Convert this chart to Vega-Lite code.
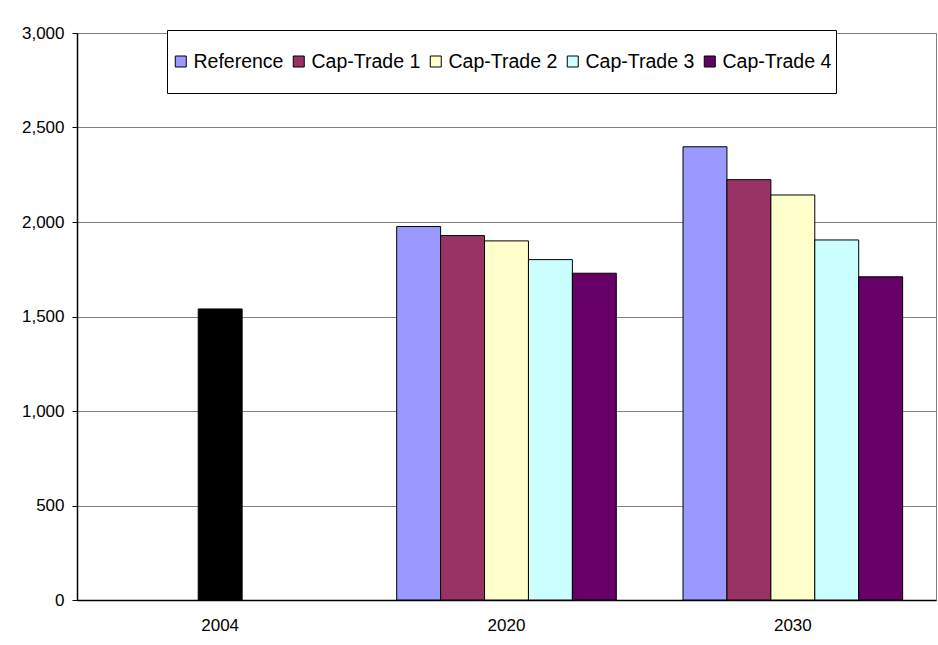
{
  "$schema": "https://vega.github.io/schema/vega-lite/v6.json",
  "autosize": {"type": "none"},
  "width": 859,
  "height": 567,
  "padding": {"left": 77, "top": 33, "right": 2, "bottom": 45},
  "background": "white",
  "config": {
    "font": "Liberation Sans",
    "view": {"stroke": "#808080", "strokeWidth": 1},
    "axis": {"labelFont": "Liberation Sans", "labelColor": "black", "labelFontSize": 17}
  },
  "datasets": {
    "base": [{"year": "2004", "value": 1540}],
    "scen": [
      {"year": "2020", "series": "Reference", "value": 1976},
      {"year": "2020", "series": "Cap-Trade 1", "value": 1928},
      {"year": "2020", "series": "Cap-Trade 2", "value": 1900},
      {"year": "2020", "series": "Cap-Trade 3", "value": 1801},
      {"year": "2020", "series": "Cap-Trade 4", "value": 1729},
      {"year": "2030", "series": "Reference", "value": 2398},
      {"year": "2030", "series": "Cap-Trade 1", "value": 2224},
      {"year": "2030", "series": "Cap-Trade 2", "value": 2143},
      {"year": "2030", "series": "Cap-Trade 3", "value": 1905},
      {"year": "2030", "series": "Cap-Trade 4", "value": 1710}
    ]
  },
  "encoding": {
    "x": {
      "field": "year", "type": "nominal", "sort": ["2004", "2020", "2030"],
      "scale": {"domain": ["2004", "2020", "2030"], "paddingInner": 0.233, "paddingOuter": 0.1165},
      "axis": {"title": null, "labelAngle": 0, "ticks": false, "domainColor": "black", "domainWidth": 1.5, "labelPadding": 17, "grid": false}
    },
    "y": {
      "field": "value", "type": "quantitative",
      "scale": {"domain": [0, 3000], "nice": false},
      "axis": {"title": null, "values": [0, 500, 1000, 1500, 2000, 2500, 3000], "format": ",.0f", "tickColor": "black", "tickSize": 5, "domainColor": "black", "domainWidth": 1.5, "labelPadding": 8, "gridColor": "#808080", "gridWidth": 1}
    }
  },
  "layer": [
    {
      "data": {"name": "base"},
      "mark": {"type": "bar", "color": "black", "stroke": "black", "strokeWidth": 1, "width": {"band": 0.2}},
      "encoding": {}
    },
    {
      "data": {"name": "scen"},
      "mark": {"type": "bar", "stroke": "black", "strokeWidth": 1},
      "encoding": {
        "xOffset": {"field": "series", "type": "nominal", "sort": ["Reference", "Cap-Trade 1", "Cap-Trade 2", "Cap-Trade 3", "Cap-Trade 4"], "scale": {"paddingInner": 0, "paddingOuter": 0}},
        "color": {
          "field": "series", "type": "nominal",
          "scale": {"domain": ["Reference", "Cap-Trade 1", "Cap-Trade 2", "Cap-Trade 3", "Cap-Trade 4"], "range": ["#9999FF", "#993366", "#FFFFCC", "#CCFFFF", "#660066"]},
          "legend": {
            "title": null, "orient": "none", "direction": "horizontal",
            "legendX": 90, "legendY": -3,
            "fillColor": "white", "strokeColor": "black", "padding": 4,
            "symbolType": "square", "symbolSize": 121, "symbolStrokeColor": "black", "symbolStrokeWidth": 1, "symbolOpacity": 1,
            "labelFont": "Liberation Sans", "labelFontSize": 19.5, "labelColor": "black", "labelOffset": 3, "columnPadding": 5,
            "clipHeight": 55, "labelLimit": 300
          }
        }
      }
    }
  ]
}
